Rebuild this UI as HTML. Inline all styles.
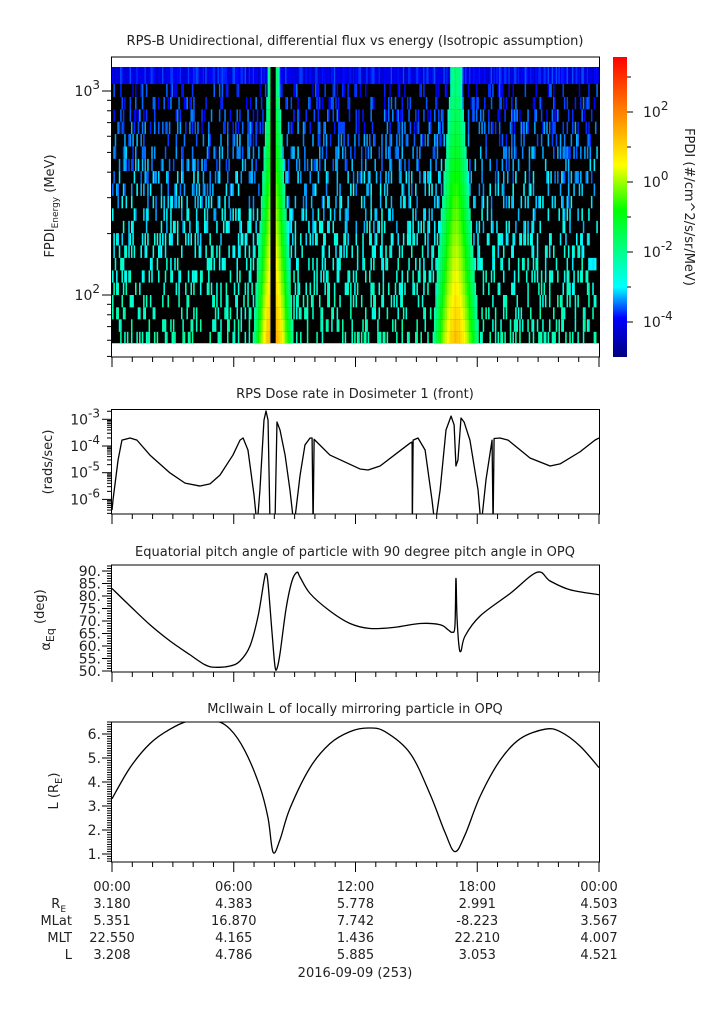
<!DOCTYPE html>
<html><head><meta charset="utf-8"><style>
body{margin:0;background:#fff}
svg{display:block;font-family:"DejaVu Sans","Liberation Sans",sans-serif}
text{fill:#222}
</style></head><body>
<svg id="s" width="725" height="1019" viewBox="0 0 725 1019" xmlns="http://www.w3.org/2000/svg">
<defs>
<clipPath id="c1"><rect x="112" y="57" width="487" height="300"/></clipPath>
<clipPath id="c2"><rect x="112" y="409.5" width="487" height="104.5"/></clipPath>
<clipPath id="c3"><rect x="112" y="565" width="487" height="107"/></clipPath>
<clipPath id="c4"><rect x="112" y="722" width="487" height="140"/></clipPath>
<linearGradient id="cbg" x1="0" y1="1" x2="0" y2="0">
<stop offset="0" stop-color="#000080"/><stop offset="0.13" stop-color="#0000ff"/><stop offset="0.233" stop-color="#00ffff"/><stop offset="0.49" stop-color="#00ff00"/><stop offset="0.64" stop-color="#ffff00"/><stop offset="0.82" stop-color="#ff8000"/><stop offset="1" stop-color="#ff0000"/>
</linearGradient>
</defs>
<g id="titles" font-size="13">
<text x="355" y="45" text-anchor="middle">RPS-B  Unidirectional, differential flux vs energy (Isotropic assumption)</text>
<text x="355" y="398" text-anchor="middle">RPS  Dose rate in Dosimeter 1 (front)</text>
<text x="355" y="556" text-anchor="middle">Equatorial pitch angle of particle with 90 degree pitch angle in OPQ</text>
<text x="355" y="713" text-anchor="middle">McIlwain L of locally mirroring particle in OPQ</text>
</g>
<g id="p1"><g id="spec" clip-path="url(#c1)"></g></g>
<g id="p2"></g>
<g id="p3"></g>
<g id="p4"></g>
<g id="cb"><rect x="613" y="57" width="14" height="300" fill="url(#cbg)"/></g>
<g id="ax" font-size="13"></g>
<g id="foot" font-size="13"></g>
</svg>
<script>
// ---------- data ----------
const hourTicks=[0,6,12,18,24];
const timeLabels=["00:00","06:00","12:00","18:00","00:00"];
const reVals=["3.180","4.383","5.778","2.991","4.503"];
const mlatVals=["5.351","16.870","7.742","-8.223","3.567"];
const mltVals=["22.550","4.165","1.436","22.210","4.007"];
const lVals=["3.208","4.786","5.885","3.053","4.521"];
// spectrogram energy channel edges (MeV)
const chanEdges=[58,66,76,87,100,115,132,152,175,201,231,266,306,352,405,465,535,615,707,813,935,1082,1311];
const beltCenters=[7.95,16.95];
const beltPeakLow=[1.6,1.2];
const beltPeakHigh=[-1.3,-1.8];
const beltWidthLow=[1.0,1.15];
const beltWidthHigh=[0.3,0.3];
const gapStart=[7.79];
const gapEnd=[8.06];
// dose rate (hours, log10 rads/sec)
const doseH=[0,0.05,0.30,0.49,0.89,1.23,1.87,2.86,3.60,4.34,4.83,5.32,5.96,6.31,6.46,6.70,7.00,7.15,7.29,7.49,7.59,7.69,7.79,8.03,8.13,8.28,8.53,8.77,8.97,9.27,9.51,9.76,9.86,9.91,9.96,10.0,10.74,12.22,12.62,13.21,14.69,14.79,14.80,14.84,15.08,15.43,15.77,15.92,16.17,16.46,16.71,16.86,16.95,17.05,17.20,17.35,17.64,18.04,18.19,18.43,18.73,18.78,18.83,19.12,19.52,20.60,21.59,22.08,23.06,23.80,24];
const doseV=[-6.40,-6.02,-4.52,-3.78,-3.70,-3.78,-4.34,-5.01,-5.39,-5.50,-5.42,-5.09,-4.34,-3.78,-3.70,-4.15,-5.84,-7,-5.65,-3.03,-2.69,-3.03,-7,-7,-3.10,-3.40,-4.34,-5.65,-7,-5.09,-3.96,-3.70,-3.70,-7,-3.75,-3.78,-4.34,-4.86,-4.90,-4.75,-3.89,-3.85,-7,-3.78,-3.70,-4.15,-6.02,-7,-5.65,-3.40,-2.88,-3.21,-4.75,-4.52,-2.95,-3.10,-3.78,-5.65,-7,-5.27,-3.78,-7,-3.72,-3.70,-3.78,-4.45,-4.75,-4.67,-4.22,-3.78,-3.70];
// equatorial pitch angle (deg)
const pitchH=[0,0.89,1.87,2.86,3.84,4.58,5.08,5.82,6.31,6.80,7.20,7.49,7.59,7.69,7.89,8.03,8.13,8.28,8.58,8.87,9.12,9.27,9.76,10.74,11.73,12.72,13.95,15.18,16.17,16.56,16.76,16.90,16.95,17.00,17.10,17.20,17.40,18.14,19.62,20.95,21.59,22.57,24];
const pitchV=[83,76,68.5,62,56.5,52.5,51.5,52,54,60,72,86,89,85,65,52,51,57,75,86,89.5,87.5,81,74,69,67,67.5,69,68.5,66.5,65.5,68,87,72,60,58,64,72,81,89.5,86,82.5,80.5];
// McIlwain L
const lH=[0,0.89,1.87,2.86,3.84,5.08,5.82,6.55,7.29,7.69,7.94,8.28,8.77,9.76,10.74,11.73,12.62,13.45,14.69,15.67,16.41,16.90,17.40,18.14,19.12,20.11,21.34,22.08,23.06,24];
const lV=[3.3,4.6,5.6,6.2,6.55,6.55,6.2,5.3,3.8,2.5,1.07,1.6,2.9,4.6,5.6,6.1,6.25,6.1,5.2,3.5,1.9,1.1,1.8,3.4,4.9,5.8,6.2,6.1,5.5,4.6];

// ---------- helpers ----------
const NS="http://www.w3.org/2000/svg";
function mk(tag,parent,attrs){const e=document.createElementNS(NS,tag);for(const k in attrs)e.setAttribute(k,attrs[k]);parent.appendChild(e);return e;}
const X0=112,X1=599;
const xs=h=>X0+h*(X1-X0)/24;
const y1=E=>91+(3-Math.log10(E))*204;
const y2=v=>446-(v+4)*26.7;
const y3=v=>571+(90-v)*2.5;
const y4=v=>854-(v-1)*24;
const stops=[[0,[0,0,128]],[0.13,[0,0,255]],[0.233,[0,255,255]],[0.49,[0,255,0]],[0.64,[255,255,0]],[0.82,[255,128,0]],[1,[255,0,0]]];
function cmap(lg){let f=(lg+5)/8.57;f=Math.max(0,Math.min(1,f));for(let i=1;i<stops.length;i++){if(f<=stops[i][0]){const a=stops[i-1],b=stops[i];const t=(f-a[0])/(b[0]-a[0]);return 'rgb('+a[1].map((c,j)=>Math.round(c+(b[1][j]-c)*t)).join(',')+')';}}return 'rgb(255,0,0)';}
function hash(a,b){let x=(a*374761393+b*668265263)|0;x=(x^(x>>>13))*1274126177|0;x^=x>>>16;return (x>>>0)/4294967296;}
function smoothPath(hs,vs,fy){const P=hs.map((h,i)=>[xs(h),fy(vs[i])]);let d='M'+P[0][0].toFixed(2)+','+P[0][1].toFixed(2);for(let i=0;i<P.length-1;i++){const p0=P[Math.max(0,i-1)],p1=P[i],p2=P[i+1],p3=P[Math.min(P.length-1,i+2)];const c1=[p1[0]+(p2[0]-p0[0])/6,p1[1]+(p2[1]-p0[1])/6],c2=[p2[0]-(p3[0]-p1[0])/6,p2[1]-(p3[1]-p1[1])/6];d+='C'+c1[0].toFixed(2)+','+c1[1].toFixed(2)+' '+c2[0].toFixed(2)+','+c2[1].toFixed(2)+' '+p2[0].toFixed(2)+','+p2[1].toFixed(2);}return d;}
function sup(parent,x,y,base,exp,anchor,name){const t=mk('text',parent,{x:x,y:y,'text-anchor':anchor,'font-size':14});t.appendChild(document.createTextNode(base));const s=mk('tspan',t,{dy:-7,'font-size':12});s.textContent=exp;return t;}

// ---------- spectrogram ----------
const spec=document.getElementById('spec');
mk('rect',spec,{x:112,y:y1(chanEdges[chanEdges.length-1]),width:487,height:y1(chanEdges[0])-y1(chanEdges[chanEdges.length-1]),fill:'#000'});
const nCol=360,nRow=chanEdges.length-1;
for(let r=0;r<nRow;r++){
  const yt=y1(chanEdges[r+1]),yb=y1(chanEdges[r]);const rf=r/(nRow-2);
  const top=(r===nRow-1);
  for(let c=0;c<nCol;c++){
    const h=(c+0.5)*24/nCol;
    let inGap=false;for(let g=0;g<gapStart.length;g++)if(h>=gapStart[g]&&h<gapEnd[g])inGap=true;
    let lg=null;
    if(top){lg=-4.35+hash(c,r)*0.75;}
    else if(hash(c,r*7+1)<0.27){lg=-2.35-1.45*rf+(hash(c,r+50)-0.5)*0.6;}
    for(let b=0;b<beltCenters.length;b++){
      const w=beltWidthLow[b]+(beltWidthHigh[b]-beltWidthLow[b])*Math.min(1,rf);
      const pk=beltPeakLow[b]+(beltPeakHigh[b]-beltPeakLow[b])*Math.min(1,rf);
      const dt=(h-beltCenters[b])/w;
      if(Math.abs(dt)<1){const v=pk-(pk+2.4)*Math.pow(Math.abs(dt),1.6);if(lg===null||v>lg)lg=v;}
    }
    if(inGap)lg=null;
    if(lg!==null){const rc=mk('rect',spec,{x:xs(c*24/nCol).toFixed(2),y:yt.toFixed(2),width:(487/nCol+0.2).toFixed(2),height:(yb-yt).toFixed(2),fill:cmap(lg)});
      
      }
  }
}

// ---------- frames & ticks ----------
const ax=document.getElementById('ax');
function frame(y0,y1_,name){const r=mk('rect',ax,{x:111.5,y:y0,width:488,height:y1_-y0,fill:'none',stroke:'#000','stroke-width':1});
  for(let h=0;h<=24;h++){const x=xs(h);const maj=h%6===0;mk('line',ax,{x1:x,x2:x,y1:y1_,y2:y1_+(maj?10:5),stroke:'#000','stroke-width':1});}}
function yt(y,maj){mk('line',ax,{x1:112-(maj?10:5),x2:112,y1:y,y2:y,stroke:'#000','stroke-width':1});}
frame(57,357,'spectrogram-frame');frame(409.5,514,'dose-frame');frame(565,672,'pitch-frame');frame(722,862,'lshell-frame');
for(let d=1;d<=3;d++)for(let m=1;m<10;m++){const y=y1(m*Math.pow(10,d));if(y>=57&&y<=357)yt(y,m===1);}
sup(ax,100,96,'10','3','end','y-tick-1000');sup(ax,100,300,'10','2','end','y-tick-100');
for(let d=-7;d<=-3;d++)for(let m=1;m<10;m++){const y=y2(d+Math.log10(m));if(y>=409.5&&y<=514)yt(y,m===1);}
[-3,-4,-5,-6].forEach(d=>sup(ax,100,y2(d)+5,'10',String(d),'end','dose-y-tick'));
for(let v=48;v<=92;v++){const y=y3(v);if(y>=565&&y<=672)yt(y,v%5===0);}
for(let v=50;v<=90;v+=5){const t=mk('text',ax,{x:101,y:y3(v)+5,'text-anchor':'end','font-size':14});t.textContent=v+'.';}
for(let i=7;i<=65;i++){const v=i/10;const y=y4(v);if(y>=722&&y<=862)yt(y,i%10===0);}
for(let v=1;v<=6;v++){const t=mk('text',ax,{x:101,y:y4(v)+5,'text-anchor':'end','font-size':14});t.textContent=v+'.';}
function ytitle(x,y,html,name){const t=mk('text',ax,{x:x,y:y,'text-anchor':'middle','font-size':13,transform:'rotate(-90 '+x+' '+y+')'});t.innerHTML=html;}
ytitle(54,206,'FPDI<tspan dy="4" font-size="9">Energy</tspan><tspan dy="-4"> (MeV)</tspan>','spectrogram-y-title');
ytitle(52,462,'(rads/sec)','dose-y-title');
ytitle(50,620,'α<tspan dy="4" font-size="11">Eq</tspan><tspan dy="-10"> (deg)</tspan>','pitch-y-title');
ytitle(58,791,'L (R<tspan dy="4" font-size="10">E</tspan><tspan dy="-4">)</tspan>','lshell-y-title');
const cb=document.getElementById('cb');
const ycb=lg=>182-lg*35;
for(let d=-4;d<=3;d++){const y=ycb(d);mk('line',cb,{x1:627,x2:627+(d%2===0?6:4),y1:y,y2:y,stroke:'#000'});if(d%2===0)sup(cb,643,y+5,'10',String(d),'start','colorbar-tick');}
{const t=mk('text',cb,{x:685,y:207,'text-anchor':'middle','font-size':13,transform:'rotate(90 685 207)'});t.textContent='FPDI (#/cm^2/s/sr/MeV)';}

// ---------- line series ----------
{const g=mk('g',document.getElementById('p2'),{'clip-path':'url(#c2)'});let d='';doseH.forEach((h,i)=>{d+=(i?'L':'M')+xs(h).toFixed(2)+','+y2(doseV[i]).toFixed(2);});
const p=mk('path',g,{d:d,fill:'none',stroke:'#000','stroke-width':1.3,'stroke-linejoin':'round'});}
{const g=mk('g',document.getElementById('p3'),{'clip-path':'url(#c3)'});const p=mk('path',g,{d:smoothPath(pitchH,pitchV,y3),fill:'none',stroke:'#000','stroke-width':1.3});}
{const g=mk('g',document.getElementById('p4'),{'clip-path':'url(#c4)'});const p=mk('path',g,{d:smoothPath(lH,lV,y4),fill:'none',stroke:'#000','stroke-width':1.3});}

// ---------- footer table ----------
const foot=document.getElementById('foot');
const rows=[timeLabels,reVals,mlatVals,mltVals,lVals];const rowY=[891,908,925,942,959];
rows.forEach((arr,ri)=>arr.forEach((s,i)=>{const t=mk('text',foot,{x:xs(hourTicks[i]),y:rowY[ri],'text-anchor':'middle'});t.textContent=s;}));
const rl=[['R<tspan dy="4" font-size="9">E</tspan>','re-label'],['MLat','mlat-label'],['MLT','mlt-label'],['L','l-label']];
rl.forEach((r,i)=>{const t=mk('text',foot,{x:r[1]==='re-label'?66:72,y:rowY[i+1],'text-anchor':'end'});t.innerHTML=r[0];});
{const t=mk('text',foot,{x:355,y:977,'text-anchor':'middle'});t.textContent='2016-09-09 (253)';}
</script>
</body></html>
